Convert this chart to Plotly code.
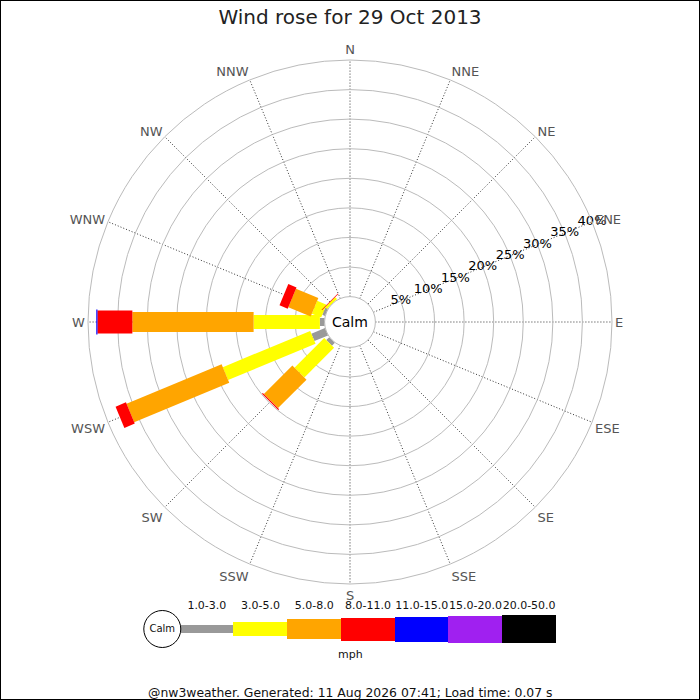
import plotly.graph_objects as go

# wind rose for 29 Oct 2013, percentages of the day per direction and speed band
directions = ['N', 'NNE', 'NE', 'ENE', 'E', 'ESE', 'SE', 'SSE',
              'S', 'SSW', 'SW', 'WSW', 'W', 'WNW', 'NW', 'NNW']
speed_bands = ['1.0-3.0', '3.0-5.0', '5.0-8.0', '8.0-11.0', '11.0-15.0', '15.0-20.0', '20.0-50.0']
band_colors = ['#999999', '#ffff00', '#ffa500', '#ff0000', '#0000ff', '#a020f0', '#000000']

#                 N  NNE NE ENE E ESE SE SSE S SSW  SW   WSW   W     WNW  NW   NNW
pct_1_3 =   [0, 0, 0, 0, 0, 0, 0, 0, 0, 0, 0.7, 2.5, 0.8, 0.5, 0.0, 0]
pct_3_5 =   [0, 0, 0, 0, 0, 0, 0, 0, 0, 0, 7.1, 16.0, 11.2, 1.7, 0.45, 0]
pct_5_8 =   [0, 0, 0, 0, 0, 0, 0, 0, 0, 0, 6.8, 17.4, 20.5, 4.1, 0.0, 0]
pct_8_11 =  [0, 0, 0, 0, 0, 0, 0, 0, 0, 0, 0.2, 1.9, 5.9, 1.5, 0.1, 0]
pct_11_15 = [0, 0, 0, 0, 0, 0, 0, 0, 0, 0, 0, 0, 0.2, 0, 0, 0]
pct_15_20 = [0] * 16
pct_20_50 = [0] * 16
bands = [pct_1_3, pct_3_5, pct_5_8, pct_8_11, pct_11_15, pct_15_20, pct_20_50]

radial_ticks = [5, 10, 15, 20, 25, 30, 35, 40]

# bar thickness in px for each speed band
widths = [8, 14, 20, 23, 25, 27, 28]

fig = go.Figure()

# stacked bars drawn as thick radial line segments (constant width like the original)
angles = [i * 22.5 for i in range(len(directions))]
cum = [0.0] * len(directions)
for k, vals in enumerate(bands):
    r, th = [], []
    for i, v in enumerate(vals):
        if v > 0:
            r += [cum[i], cum[i] + v, None]
            th += [angles[i], angles[i], None]
            cum[i] += v
    if r:
        fig.add_trace(go.Scatterpolar(r=r, theta=th, mode='lines',
                                      line=dict(color=band_colors[k], width=widths[k]),
                                      hoverinfo='skip', showlegend=False))

# percentage labels along the ENE spoke
fig.add_trace(go.Scatterpolar(r=radial_ticks, theta=[67.5] * len(radial_ticks),
                              text=[f'{t}%' for t in radial_ticks], mode='text',
                              textposition='middle center',
                              textfont=dict(size=13, color='black'),
                              hoverinfo='skip', showlegend=False))

# legend strip
px_per_unit = 30.0
fig.add_trace(go.Bar(x=[1] * len(speed_bands), base=list(range(len(speed_bands))),
                     y=[0] * len(speed_bands), orientation='h',
                     width=[w / px_per_unit for w in widths],
                     marker=dict(color=band_colors, line=dict(width=0)),
                     xaxis='x2', yaxis='y2', showlegend=False, hoverinfo='skip'))
fig.add_trace(go.Scatter(x=[i + 0.5 for i in range(len(speed_bands))], y=[0.75] * len(speed_bands),
                         text=speed_bands, mode='text', textposition='middle center',
                         textfont=dict(size=11, color='#111'),
                         xaxis='x2', yaxis='y2', showlegend=False, hoverinfo='skip'))
fig.add_trace(go.Scatter(x=[-0.33], y=[0], mode='markers+text', text=['Calm'],
                         textposition='middle center', textfont=dict(size=10, color='#111'),
                         marker=dict(size=37, color='white', line=dict(color='black', width=1)),
                         xaxis='x2', yaxis='y2', showlegend=False, hoverinfo='skip'))

fig.update_layout(
    width=700, height=700,
    margin=dict(l=0, r=0, t=0, b=0),
    paper_bgcolor='white', plot_bgcolor='white',
    font=dict(family='DejaVu Sans', color='#222'),
    title=dict(text='Wind rose for 29 Oct 2013', x=0.5, xanchor='center',
               y=1 - 17 / 700, yanchor='middle', yref='container',
               font=dict(size=20, color='#222')),
    polar=dict(
        domain=dict(x=[88 / 700, 612 / 700], y=[1 - 584 / 700, 1 - 60 / 700]),
        hole=25.4 / 262,
        bgcolor='white',
        radialaxis=dict(range=[0, 40], tickvals=[0] + radial_ticks, showticklabels=False,
                        angle=22.5, showline=False, ticks='',
                        gridcolor='#bbbbbb', gridwidth=1),
        angularaxis=dict(direction='clockwise', rotation=90,
                         tickmode='array', tickvals=angles, ticktext=directions,
                         ticks='', showline=True, linecolor='#bbbbbb', linewidth=1,
                         gridcolor='#333333', griddash='1px,2px', gridwidth=1,
                         tickfont=dict(size=13, color='#555555')),
    ),
    xaxis2=dict(domain=[126.3 / 700, 556 / 700], range=[-1, 7], visible=False, fixedrange=True),
    yaxis2=dict(domain=[1 - 659 / 700, 1 - 599 / 700], range=[-1, 1], visible=False, fixedrange=True),
    bargap=0,
    annotations=[
        dict(text='Calm', x=0.5, y=1 - 322 / 700, xref='paper', yref='paper',
             yanchor='middle', showarrow=False, font=dict(size=14, color='black')),
        dict(text='mph', x=350 / 700, y=1 - 654 / 700, xref='paper', yref='paper',
             yanchor='middle', showarrow=False, font=dict(size=11, color='#111')),
        dict(text='@nw3weather. Generated: 11 Aug 2026 07:41; Load time: 0.07 s',
             x=0.5, y=1 - 692 / 700, xref='paper', yref='paper', yanchor='middle',
             showarrow=False, font=dict(size=12.4, color='#111')),
    ],
    shapes=[dict(type='rect', xref='paper', yref='paper', x0=0, y0=0, x1=1, y1=1,
                 line=dict(color='black', width=2))],
)

# page has a default body margin, drop it so the chart sits at the window corner
fig.write_html('out.html', config={'displayModeBar': False},
               post_script="document.body.style.margin='0px';")
